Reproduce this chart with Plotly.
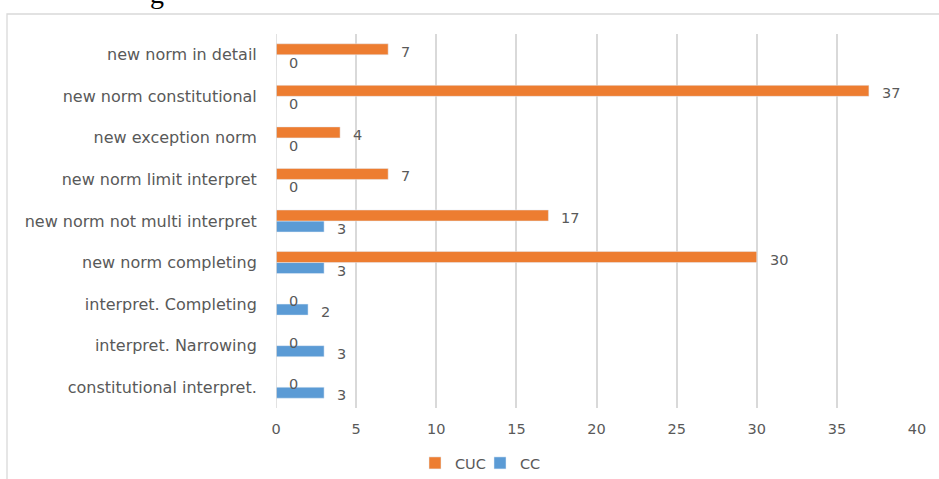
import plotly.graph_objects as go

categories = ["constitutional interpret.", "interpret. Narrowing", "interpret. Completing",
              "new norm completing", "new norm not multi interpret", "new norm limit interpret",
              "new exception norm", "new norm constitutional", "new norm in detail"]
cuc = [0, 0, 0, 30, 17, 7, 4, 37, 7]
cc = [3, 3, 2, 3, 3, 0, 0, 0, 0]
x_ticks = [0, 5, 10, 15, 20, 25, 30, 35, 40]

ORANGE = "#ED7D31"
BLUE = "#5B9BD5"
GREY = "#595959"
FONT = "DejaVu Sans"
FS = 14.5

W, H = 939, 479
L, R, T, B = 276, 22, 34, 71
pw, ph = W - L - R, H - T - B

fig = go.Figure()
fig.add_trace(go.Bar(y=categories, x=cc, orientation="h", name="CC",
                     marker=dict(color=BLUE), legendrank=2))
fig.add_trace(go.Bar(y=categories, x=cuc, orientation="h", name="CUC",
                     marker=dict(color=ORANGE), legendrank=1))

ann = []
for c, v in zip(categories, cuc):
    ann.append(dict(x=v, y=c, xref="x", yref="y", text=str(v), showarrow=False,
                    xanchor="left", yanchor="middle", xshift=11, yshift=3,
                    font=dict(family=FONT, size=FS, color=GREY)))
for c, v in zip(categories, cc):
    ann.append(dict(x=v, y=c, xref="x", yref="y", text=str(v), showarrow=False,
                    xanchor="left", yanchor="middle", xshift=11, yshift=-8,
                    font=dict(family=FONT, size=FS, color=GREY)))
# cut-off caption letter at the very top
ann.append(dict(x=(157 - L) / pw, y=1 + (T - 11) / ph, xref="paper", yref="paper",
                text="g", showarrow=False, xanchor="center", yanchor="bottom",
                font=dict(family="Liberation Serif", size=28, color="#000000")))

fig.update_layout(
    width=W, height=H,
    margin=dict(l=L, r=R, t=T, b=B, autoexpand=False),
    paper_bgcolor="white", plot_bgcolor="white",
    barmode="group", bargap=0.47, bargroupgap=0,
    font=dict(family=FONT, size=FS, color=GREY),
    showlegend=True,
    legend=dict(orientation="h", xref="container", yref="container",
                x=480 / W, y=1 - 463 / H,
                xanchor="center", yanchor="middle",
                font=dict(family=FONT, size=FS, color=GREY),
                itemwidth=30, entrywidth=20, tracegroupgap=0),
    annotations=ann,
    shapes=[dict(type="rect", xref="paper", yref="paper",
                 x0=(7 - L) / pw, x1=1.2, y0=-0.5, y1=1 + (T - 14) / ph,
                 line=dict(color="#D9D9D9", width=1.3), fillcolor="rgba(0,0,0,0)",
                 layer="below")],
    xaxis=dict(range=[0, 40], tickvals=x_ticks, showgrid=True, gridcolor="#D9D9D9",
               gridwidth=1.5, zeroline=False, showline=False,
               ticks="outside", ticklen=8, tickcolor="rgba(0,0,0,0)",
               tickfont=dict(family=FONT, size=FS, color=GREY)),
    yaxis=dict(categoryorder="array", categoryarray=categories, showgrid=False,
               zeroline=False, showline=False,
               ticks="outside", ticklen=15, tickcolor="rgba(0,0,0,0)",
               tickfont=dict(family=FONT, size=16, color=GREY)),
)
fig.add_vline(x=0, line=dict(color="#D9D9D9", width=1.5))

fig.write_html("out.html", config={"displayModeBar": False},
               post_script="document.body.style.margin='0';document.body.style.overflow='hidden';")
